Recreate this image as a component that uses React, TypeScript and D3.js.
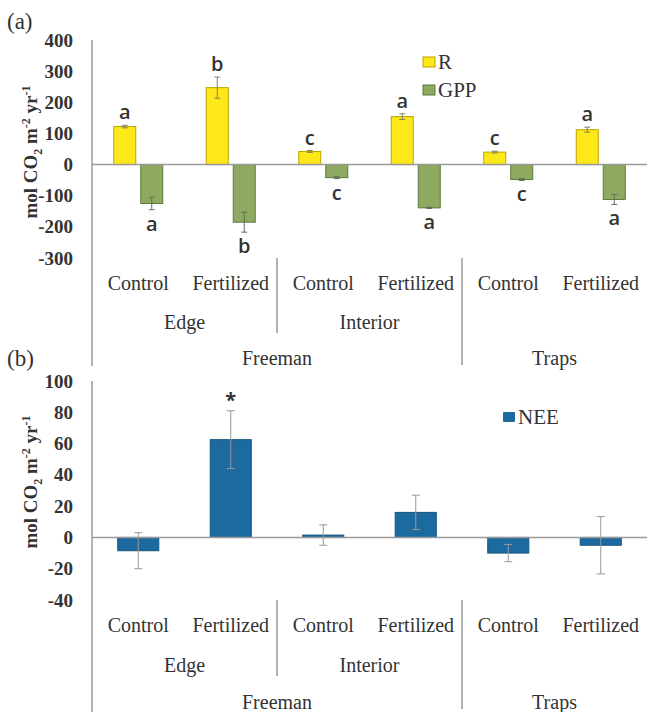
import React from 'react';
import * as d3 from 'd3';

// Two stacked bar panels: (a) R and GPP, (b) NEE, by site / treatment.

const treatments = ['Control', 'Fertilized', 'Control', 'Fertilized', 'Control', 'Fertilized'];
const habitats = ['Edge', 'Interior'];
const sites = ['Freeman', 'Traps'];

const rValues = [122, 247, 42, 154, 40, 112];
const rErrors = [4, 34, 3, 9, 3, 8];
const rLetters = ['a', 'b', 'c', 'a', 'c', 'a'];

const gppValues = [-125, -185, -42, -139, -48, -112];
const gppErrors = [20, 32, 3, 2, 3, 16];
const gppLetters = ['a', 'b', 'c', 'a', 'c', 'a'];

const neeValues = [-8.5, 62.5, 1.5, 16, -10, -5];
const neeErrors = [11.5, 18.5, 6.5, 11, 5.5, 18.3];
const neeMarks = ['', '*', '', '', '', ''];

const W = 647;
const H = 712;
const LEFT = 92;
const RIGHT = 647;

const SERIF = "'Liberation Serif', 'DejaVu Serif', 'Times New Roman', serif";
const SANS = "'Open Sans', 'Noto Sans', sans-serif";
const TEXT = '#333';
const AXIS = '#9a9a9a';

const R_FILL = '#ffe81a';
const R_STROKE = '#b9a400';
const GPP_FILL = '#8daa60';
const GPP_STROKE = '#5d7a3a';
const NEE_FILL = '#1c6aa0';
const NEE_STROKE = '#14557f';

const serif = { fontFamily: SERIF };
const sans = { fontFamily: SANS };

const idx = treatments.map((_, i) => String(i));
const x = d3.scaleBand().domain(idx).range([LEFT, RIGHT]);
const xSub = d3.scaleBand().domain(['R', 'GPP']).range([0, x.bandwidth()]).paddingInner(0.185).paddingOuter(0.806);
const xB = d3.scaleBand().domain(idx).range([LEFT, RIGHT]).paddingInner(0.556).paddingOuter(0.278);

const yA = d3.scaleLinear().domain([-300, 400]).range([258, 40]);
const yB = d3.scaleLinear().domain([-40, 100]).range([600, 381]);

function YTitle({ cx, cy }: { cx: number; cy: number }) {
  return (
    <text
      transform={`translate(${cx},${cy}) rotate(-90)`}
      textAnchor="middle"
      style={serif}
      fontSize={19}
      fontWeight="bold"
      fill={TEXT}
    >
      mol CO<tspan fontSize={12} dy={5}>2</tspan>
      <tspan dy={-5}> m</tspan>
      <tspan fontSize={12} dy={-7}>-2</tspan>
      <tspan dy={7}> yr</tspan>
      <tspan fontSize={12} dy={-7}>-1</tspan>
    </text>
  );
}

function YTicks({ scale }: { scale: d3.ScaleLinear<number, number> }) {
  return (
    <g>
      {scale.ticks(7).map(t => (
        <text
          key={t}
          x={73}
          y={scale(t)}
          textAnchor="end"
          dominantBaseline="central"
          style={serif}
          fontSize={19}
          fontWeight="bold"
          fill={TEXT}
        >
          {t}
        </text>
      ))}
    </g>
  );
}

function Categories({ top, rows }: { top: number; rows: number[] }) {
  const sepA = x('2') as number;
  const sepB = x('4') as number;
  return (
    <g style={serif} fontSize={20} fill={TEXT}>
      {treatments.map((t, i) => (
        <text key={i} x={(x(String(i)) as number) + x.bandwidth() / 2} y={rows[0]} textAnchor="middle" dominantBaseline="central">
          {t}
        </text>
      ))}
      {habitats.map((h, i) => (
        <text key={h} x={(x(String(i * 2)) as number) + x.bandwidth()} y={rows[1]} textAnchor="middle" dominantBaseline="central">
          {h}
        </text>
      ))}
      <text x={(LEFT + sepB) / 2} y={rows[2]} textAnchor="middle" dominantBaseline="central">{sites[0]}</text>
      <text x={(sepB + RIGHT) / 2} y={rows[2]} textAnchor="middle" dominantBaseline="central">{sites[1]}</text>
      <line x1={sepA} x2={sepA} y1={top} y2={rows[1] + 11} stroke={AXIS} strokeWidth={1.5} />
      <line x1={sepB} x2={sepB} y1={top} y2={rows[2] + 7} stroke={AXIS} strokeWidth={1.5} />
    </g>
  );
}

function ErrBar({ cx, y1, y2, cap, color }: { cx: number; y1: number; y2: number; cap: number; color: string }) {
  return (
    <g stroke={color} strokeWidth={1}>
      <line x1={cx} x2={cx} y1={y1} y2={y2} />
      <line x1={cx - cap / 2} x2={cx + cap / 2} y1={y1} y2={y1} />
      <line x1={cx - cap / 2} x2={cx + cap / 2} y1={y2} y2={y2} />
    </g>
  );
}

export default function App() {
  const bwA = xSub.bandwidth();
  const bwB = xB.bandwidth();
  return (
    <svg width={W} height={H} style={{ position: 'absolute', left: 0, top: 0, background: '#fff' }}>
      {/* panel (a) */}
      <text x={7} y={29} style={serif} fontSize={23} fill={TEXT}>(a)</text>
      <YTitle cx={37} cy={152} />
      <YTicks scale={yA} />
      <line x1={LEFT} x2={LEFT} y1={40} y2={366} stroke={AXIS} strokeWidth={1.5} />

      {rValues.map((v, i) => {
        const x0 = (x(String(i)) as number) + (xSub('R') as number);
        const cx = x0 + bwA / 2;
        const top = yA(v + rErrors[i]);
        return (
          <g key={'r' + i}>
            <rect x={x0} y={yA(v)} width={bwA} height={yA(0) - yA(v)} fill={R_FILL} stroke={R_STROKE} strokeWidth={1} />
            <ErrBar cx={cx} y1={top} y2={yA(v - rErrors[i])} cap={6} color="#8a8060" />
            <text x={cx} y={top - 6} textAnchor="middle" style={sans} fontSize={20} fontWeight={600} fill={TEXT}>{rLetters[i]}</text>
          </g>
        );
      })}
      {gppValues.map((v, i) => {
        const x0 = (x(String(i)) as number) + (xSub('GPP') as number);
        const cx = x0 + bwA / 2;
        const bottom = yA(v - gppErrors[i]);
        return (
          <g key={'g' + i}>
            <rect x={x0} y={yA(0)} width={bwA} height={yA(v) - yA(0)} fill={GPP_FILL} stroke={GPP_STROKE} strokeWidth={1} />
            <ErrBar cx={cx} y1={yA(v + gppErrors[i])} y2={bottom} cap={6} color="#6b6b5a" />
            <text x={cx} y={bottom + 21} textAnchor="middle" style={sans} fontSize={20} fontWeight={600} fill={TEXT}>{gppLetters[i]}</text>
          </g>
        );
      })}
      <line x1={LEFT} x2={RIGHT} y1={yA(0)} y2={yA(0)} stroke={AXIS} strokeWidth={1.5} />

      <g style={serif} fontSize={21} fill={TEXT}>
        <rect x={423} y={57} width={12} height={10} fill={R_FILL} stroke={R_STROKE} />
        <text x={438} y={69}>R</text>
        <rect x={423} y={85} width={12} height={10} fill={GPP_FILL} stroke={GPP_STROKE} />
        <text x={438} y={97}>GPP</text>
      </g>

      <Categories top={258} rows={[283, 322, 358]} />

      {/* panel (b) */}
      <text x={7} y={366} style={serif} fontSize={23} fill={TEXT}>(b)</text>
      <YTitle cx={37} cy={482} />
      <YTicks scale={yB} />
      <line x1={LEFT} x2={LEFT} y1={381} y2={H} stroke={AXIS} strokeWidth={1.5} />

      {neeValues.map((v, i) => {
        const x0 = xB(String(i)) as number;
        const cx = x0 + bwB / 2;
        const y0 = Math.min(yB(v), yB(0));
        const top = yB(v + neeErrors[i]);
        return (
          <g key={'n' + i}>
            <rect x={x0} y={y0} width={bwB} height={Math.max(Math.abs(yB(v) - yB(0)), 1)} fill={NEE_FILL} stroke={NEE_STROKE} strokeWidth={1} />
            <ErrBar cx={cx} y1={top} y2={yB(v - neeErrors[i])} cap={8} color="#999" />
            {neeMarks[i] && (
              <text x={cx} y={top - 4} textAnchor="middle" style={sans} fontSize={20} fontWeight="bold" fill={TEXT}>{neeMarks[i]}</text>
            )}
          </g>
        );
      })}
      <line x1={LEFT} x2={RIGHT} y1={yB(0)} y2={yB(0)} stroke={AXIS} strokeWidth={1.5} />

      <g style={serif} fontSize={21} fill={TEXT}>
        <rect x={503} y={412} width={12} height={10} rx={1} fill={NEE_FILL} />
        <text x={518} y={424}>NEE</text>
      </g>

      <Categories top={600} rows={[625, 665, 702]} />
    </svg>
  );
}
